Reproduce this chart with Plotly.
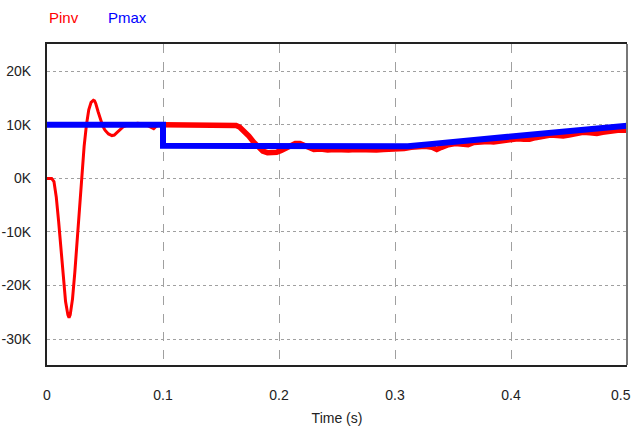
import plotly.graph_objects as go

# ---- data ----
pinv_t = [0.0, 0.004, 0.006, 0.008, 0.010, 0.012, 0.014, 0.016, 0.018, 0.019, 0.020, 0.022,
          0.024, 0.026, 0.028, 0.030, 0.032, 0.034, 0.036, 0.038, 0.040, 0.041, 0.042, 0.044,
          0.046, 0.048, 0.050, 0.053, 0.056, 0.058, 0.060, 0.063, 0.066, 0.070, 0.074, 0.078,
          0.082, 0.086, 0.089, 0.092, 0.094, 0.097, 0.100]
pinv_v = [0.0, 0.0, -0.6, -3.5, -8.0, -13.5, -18.5, -23.0, -25.5, -26.0, -25.5, -22.5,
          -17.5, -11.5, -5.0, 1.0, 6.0, 10.0, 12.8, 14.2, 14.6, 14.5, 14.0, 12.5,
          11.0, 9.8, 9.0, 8.3, 8.0, 8.1, 8.5, 9.2, 9.7, 10.0, 10.1, 10.3,
          10.2, 10.0, 9.6, 9.3, 9.7, 10.0, 10.0]

pinv2_t = [0.100, 0.120, 0.140, 0.160, 0.163, 0.166, 0.170, 0.174, 0.178, 0.182, 0.186,
           0.190, 0.194, 0.198, 0.202, 0.206, 0.210, 0.214, 0.218, 0.222, 0.226, 0.230,
           0.236, 0.242, 0.248, 0.254, 0.260, 0.266, 0.272, 0.278, 0.284, 0.290, 0.296,
           0.302, 0.308, 0.314, 0.320, 0.326, 0.332, 0.336, 0.340, 0.346, 0.352, 0.358,
           0.363, 0.368, 0.374, 0.380, 0.385, 0.389, 0.394, 0.400, 0.406, 0.411, 0.416,
           0.421, 0.428, 0.434, 0.440, 0.445, 0.450, 0.456, 0.462, 0.468, 0.474, 0.479,
           0.485, 0.492, 0.500]
pinv2_v = [10.0, 10.0, 10.0, 10.0, 9.9, 9.6, 8.9, 7.9, 6.8, 5.8, 5.1,
           4.8, 4.8, 4.9, 5.2, 5.7, 6.2, 6.5, 6.5, 6.1, 5.6, 5.4,
           5.5, 5.3, 5.4, 5.3, 5.3, 5.4, 5.3, 5.4, 5.3, 5.4, 5.4,
           5.5, 5.6, 5.8, 5.9, 6.0, 5.8, 5.4, 5.8, 6.3, 6.5, 6.5,
           6.3, 6.7, 6.9, 6.9, 6.8, 6.9, 7.2, 7.4, 7.4, 7.3, 7.3,
           7.6, 7.9, 8.1, 8.0, 7.9, 8.1, 8.4, 8.6, 8.5, 8.4, 8.6,
           8.8, 9.0, 9.0]

pmax_t = [0.0, 0.100, 0.100, 0.311, 0.330, 0.350, 0.370, 0.390, 0.410, 0.430, 0.450,
          0.470, 0.490, 0.500]
pmax_v = [10.0, 10.0, 6.1, 6.0, 6.4, 6.8, 7.2, 7.6, 8.0, 8.4, 8.8,
          9.2, 9.6, 9.85]

x_ticks = [0, 0.1, 0.2, 0.3, 0.4, 0.5]
x_labels = ["0", "0.1", "0.2", "0.3", "0.4", "0.5"]
y_ticks = [20000, 10000, 0, -10000, -20000, -30000]
y_labels = ["20K", "10K", "0K", "-10K", "-20K", "-30K"]

FONT = "Liberation Sans, Arial, sans-serif"

fig = go.Figure()
fig.add_trace(go.Scatter(x=pinv_t, y=[v * 1000 for v in pinv_v], mode="lines",
                         line=dict(color="#ff0000", width=3), name="Pinv", showlegend=False))
fig.add_trace(go.Scatter(x=pinv2_t, y=[v * 1000 for v in pinv2_v], mode="lines",
                         line=dict(color="#ff0000", width=5.5), name="Pinv", showlegend=False))
fig.add_trace(go.Scatter(x=pmax_t, y=[v * 1000 for v in pmax_v], mode="lines",
                         line=dict(color="#0000ff", width=6), name="Pmax", showlegend=False))

fig.add_annotation(text="Pinv", xref="paper", yref="paper", x=0.0, y=1.0, yshift=27,
                   xanchor="left", yanchor="middle", showarrow=False,
                   font=dict(color="#ff0000", size=15, family=FONT))
fig.add_annotation(text="Pmax", xref="paper", yref="paper", x=(106 - 47) / 580, y=1.0, yshift=27,
                   xanchor="left", yanchor="middle", showarrow=False,
                   font=dict(color="#0000ff", size=15, family=FONT))

# last x tick label placed inside the page (as in the reference)
fig.add_annotation(text=x_labels[-1], x=x_ticks[-1], xref="x", yref="paper", y=0,
                   yshift=-30, xanchor="right", yanchor="middle", xshift=6, showarrow=False,
                   font=dict(size=14, family=FONT, color="#222222"))

# right frame edge in grey, as in the reference
fig.add_shape(type="line", xref="paper", yref="paper", x0=1, x1=1, y0=0, y1=1,
              line=dict(color="#777777", width=2), layer="above")

fig.update_layout(
    width=635, height=434,
    margin=dict(l=47, r=8, t=44, b=69),
    paper_bgcolor="white", plot_bgcolor="white",
    font=dict(family=FONT, size=14, color="#222222"),
    xaxis=dict(range=[0, 0.5], tickvals=x_ticks[:-1], ticktext=x_labels[:-1],
               showgrid=True, gridcolor="#a0a0a0", gridwidth=1, griddash="dash",
               showline=True, linecolor="#222222", linewidth=2, mirror=True,
               zeroline=False, ticks="", ticklabelstandoff=16, automargin=False,
               title=dict(text="Time (s)", font=dict(size=14), standoff=11)),
    yaxis=dict(range=[-34850, 25100], tickvals=y_ticks, ticktext=y_labels,
               showgrid=True, gridcolor="#a0a0a0", gridwidth=1, griddash="dot",
               showline=True, linecolor="#222222", linewidth=2, mirror=False,
               zeroline=False, ticks="", ticklabelstandoff=11, automargin=False,
               ticklabeloverflow="allow"),
)

fig.write_html("out.html")
